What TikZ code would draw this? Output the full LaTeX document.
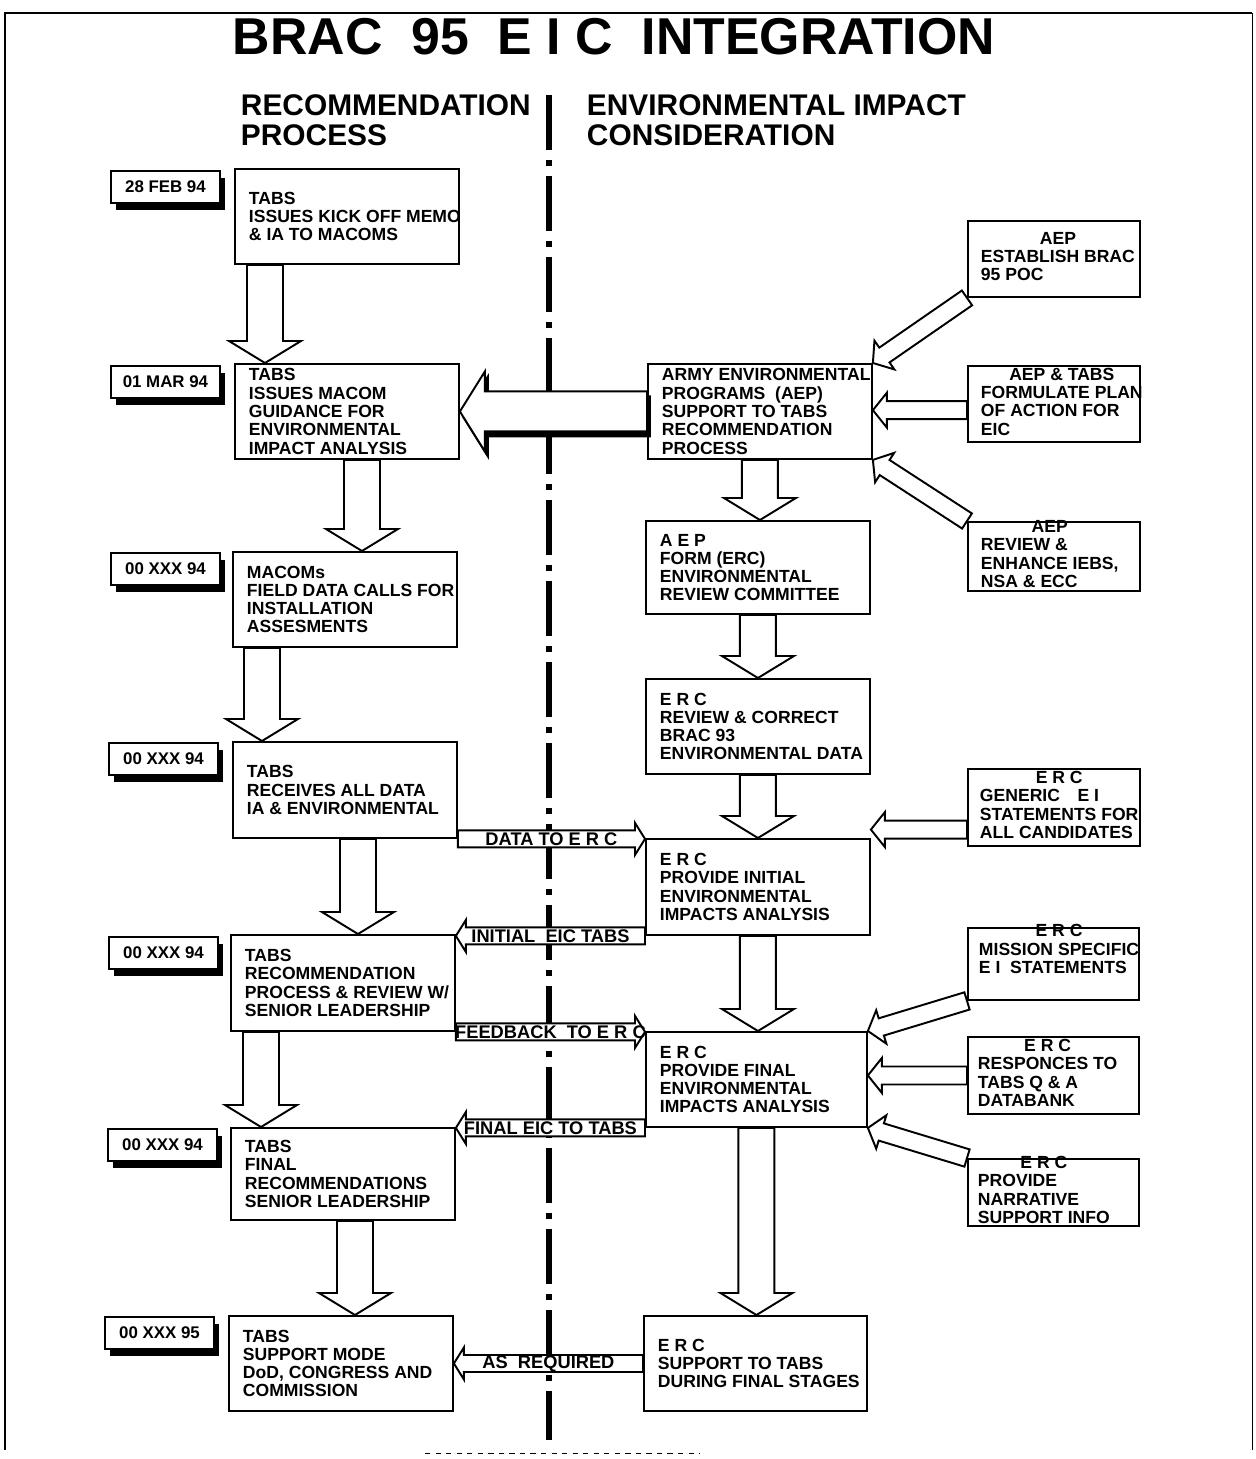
\documentclass[tikz,border=0pt]{standalone}
\usepackage{fontspec}
\setmainfont{Liberation Sans}
\usetikzlibrary{positioning,calc,shadows}

\begin{document}
\begin{tikzpicture}[
    x=0.02cm, y=-0.02cm,
    line width=1.1pt,
    box/.style={draw, fill=white, anchor=north west, inner sep=0pt},
    lbox/.style={box, minimum width=4.48cm, minimum height=1.9cm},
    rbox/.style={box, minimum width=3.44cm, minimum height=1.52cm},
    txt/.style={anchor=west, align=left, inner sep=0pt, xshift=0.28cm,
                font=\bfseries\fontsize{10}{10.4}\selectfont},
    date/.style={draw, fill=white, anchor=north west, inner sep=0pt,
                 minimum width=2.18cm, minimum height=0.64cm,
                 font=\bfseries\fontsize{9.6}{9.6}\selectfont,
                 drop shadow={shadow xshift=0.11cm, shadow yshift=-0.14cm,
                              fill=black, opacity=1}},
    hdr/.style={anchor=north west, align=left, inner sep=0pt,
                font=\bfseries\fontsize{17}{17}\selectfont},
    lbl/.style={font=\bfseries\fontsize{10.4}{10.4}\selectfont, inner sep=0pt},
    % hollow block arrow: half shaft, half head, head length
    fat/.style n args={3}{draw, fill=white, to path={
        let \p1=(\tikztostart), \p2=(\tikztotarget), \p3=($(\p2)!#3!(\p1)$) in
        -- ($(\p1)!#1!90:(\p2)$) -- ($(\p3)!#1!90:(\p2)$) -- ($(\p3)!#2!90:(\p2)$)
        -- (\p2) -- ($(\p3)!#2!-90:(\p2)$) -- ($(\p3)!#1!-90:(\p2)$)
        -- ($(\p1)!#1!-90:(\p2)$) -- cycle}},
    down/.style={fat={0.36cm}{0.72cm}{0.44cm}},
    big/.style={fat={0.4cm}{0.8cm}{0.5cm}},
    side/.style={fat={0.18cm}{0.35cm}{0.28cm}},
    flow/.style={fat={0.17cm}{0.32cm}{0.2cm}},
  ]
  \useasboundingbox (0,0) rectangle (1256,1459);

  % frame
  \draw[line width=1.2pt] (1252,13) -- (5,13) -- (5,1450);
  \draw[line width=0.5pt] (1252,13) -- (1252,1450);
  \draw[line width=0.5pt, dashed] (425,1453) -- (700,1453);

  \node[font=\bfseries\fontsize{29.5}{29.5}\selectfont] (title) at (614,37)
    {BRAC\ \ 95\ \ E I C\ \ INTEGRATION};
  \node[hdr] (rec) at (240,94) {RECOMMENDATION\\PROCESS};
  \node[hdr] (env) at (586,94) {ENVIRONMENTAL IMPACT\\CONSIDERATION};

  % dates
  \node[date] (d1) at (110,170)  {28 FEB 94};
  \node[date] (d2) at (110,365)  {01 MAR 94};
  \node[date] (d3) at (110,552)  {00 XXX 94};
  \node[date] (d4) at (108,742)  {00 XXX 94};
  \node[date] (d5) at (108,936)  {00 XXX 94};
  \node[date] (d6) at (107,1128) {00 XXX 94};
  \node[date] (d7) at (104,1316) {00 XXX 95};

  % recommendation process
  \node[lbox] (kick)   at (234,168)  {};
  \node[lbox] (guide)  at (234,363)  {};
  \node[lbox] (field)  at (232,551)  {};
  \node[lbox, minimum height=1.92cm] (recv)   at (232,741)  {};
  \node[lbox, minimum height=1.92cm] (review) at (230,934)  {};
  \node[lbox, minimum height=1.84cm] (final)  at (230,1127) {};
  \node[lbox] (supp)   at (228,1315) {};
  \node[txt] (kickt)   at (kick.west)   {TABS\\ISSUES KICK OFF MEMO\\\& IA TO MACOMS};
  \node[txt] (guidet)  at (guide.west)  {TABS\\ISSUES MACOM\\GUIDANCE FOR\\ENVIRONMENTAL\\IMPACT ANALYSIS};
  \node[txt] (fieldt)  at (field.west)  {MACOMs\\FIELD DATA CALLS FOR\\INSTALLATION\\ASSESMENTS};
  \node[txt] (recvt)   at (recv.west)   {TABS\\RECEIVES ALL DATA\\IA \& ENVIRONMENTAL};
  \node[txt] (reviewt) at (review.west) {TABS\\RECOMMENDATION\\PROCESS \& REVIEW W/\\SENIOR LEADERSHIP};
  \node[txt] (finalt)  at (final.west)  {TABS\\FINAL\\RECOMMENDATIONS\\SENIOR LEADERSHIP};
  \node[txt] (suppt)   at (supp.west)   {TABS\\SUPPORT MODE\\DoD, CONGRESS AND\\COMMISSION};

  % environmental impact consideration
  \node[lbox] (aep)  at (647,363)  {};
  \node[lbox, minimum height=1.86cm] (form) at (645,520) {};
  \node[lbox] (corr) at (645,678)  {};
  \node[lbox, minimum height=1.92cm] (init) at (645,838) {};
  \node[lbox, minimum width=4.42cm] (fin)  at (645,1031) {};
  \node[lbox, minimum width=4.46cm] (erc)  at (643,1315) {};
  \node[txt] (aept)  at (aep.west)  {ARMY ENVIRONMENTAL\\PROGRAMS\ \ (AEP)\\SUPPORT TO TABS\\RECOMMENDATION\\PROCESS};
  \node[txt] (formt) at (form.west) {A E P\\FORM (ERC)\\ENVIRONMENTAL\\REVIEW COMMITTEE};
  \node[txt] (corrt) at (corr.west) {E R C\\REVIEW \& CORRECT\\BRAC 93\\ENVIRONMENTAL DATA};
  \node[txt] (initt) at (init.west) {E R C\\PROVIDE INITIAL\\ENVIRONMENTAL\\IMPACTS ANALYSIS};
  \node[txt] (fint)  at (fin.west)  {E R C\\PROVIDE FINAL\\ENVIRONMENTAL\\IMPACTS ANALYSIS};
  \node[txt] (erct)  at (erc.west)  {E R C\\SUPPORT TO TABS\\DURING FINAL STAGES};

  % inputs on the right
  \node[rbox] (poc)  at (967,220)  {};
  \node[rbox] (plan) at (967,365)  {};
  \node[rbox, minimum height=1.38cm] (iebs) at (967,521)  {};
  \node[rbox, minimum height=1.54cm] (gen)  at (967,768)  {};
  \node[rbox, minimum width=3.42cm, minimum height=1.44cm] (miss) at (967,927)  {};
  \node[rbox, minimum width=3.42cm, minimum height=1.54cm] (qa)   at (967,1036) {};
  \node[rbox, minimum width=3.42cm, minimum height=1.34cm] (narr) at (967,1158) {};
  \node[txt, xshift=-0.02cm] (poct)  at (poc.west)
    {\begin{tabular}{@{}l@{}}\multicolumn{1}{@{}c@{}}{AEP}\\ESTABLISH BRAC\\95 POC\end{tabular}};
  \node[txt, xshift=-0.02cm] (plant) at (plan.west)
    {\begin{tabular}{@{}l@{}}\multicolumn{1}{@{}c@{}}{AEP \& TABS}\\FORMULATE PLAN\\OF ACTION FOR\\EIC\end{tabular}};
  \node[txt, xshift=-0.02cm] (iebst) at (iebs.west)
    {\begin{tabular}{@{}l@{}}\multicolumn{1}{@{}c@{}}{AEP}\\REVIEW \&\\ENHANCE IEBS,\\NSA \& ECC\end{tabular}};
  \node[txt, xshift=-0.04cm] (gent)  at (gen.west)
    {\begin{tabular}{@{}l@{}}\multicolumn{1}{@{}c@{}}{E R C}\\GENERIC\quad E I\\STATEMENTS FOR\\ALL CANDIDATES\end{tabular}};
  \node[txt, anchor=north west, xshift=-0.06cm, yshift=0.08cm] (misst) at (miss.north west)
    {\begin{tabular}{@{}l@{}}\multicolumn{1}{@{}c@{}}{E R C}\\MISSION SPECIFIC\\E I\ \ STATEMENTS\end{tabular}};
  \node[txt, xshift=-0.08cm] (qat)   at (qa.west)
    {\begin{tabular}{@{}l@{}}\multicolumn{1}{@{}c@{}}{E R C}\\RESPONCES TO\\TABS Q \& A\\DATABANK\end{tabular}};
  \node[txt, xshift=-0.08cm] (narrt) at (narr.west)
    {\begin{tabular}{@{}l@{}}\multicolumn{1}{@{}c@{}}{E R C}\\PROVIDE\\NARRATIVE\\SUPPORT INFO\end{tabular}};

  % dividing line
  \coordinate (ctop) at (549,95);
  \coordinate (cbot) at (549,1440);
  \draw[line width=3pt, dash pattern=on 1.1cm off 0.2cm on 0.12cm off 0.2cm] (ctop) -- (cbot);

  % flow down each column
  \foreach \a/\b/\s in {kick/guide/0.62, guide/field/2.56, field/recv/0.6,
                        recv/review/2.52, review/final/0.62, final/supp/2.5} {
    \coordinate (s) at ([xshift=\s cm]\a.south west);
    \draw[down] (s) to (s |- \b.north);
  }
  \foreach \a/\b in {aep/form, form/corr, corr/init, init/fin, fin/erc}
    \draw[down] (\a.south) to (\a.south |- \b.north);

  % AEP support to TABS
  \draw[big, fill=black, transform canvas={xshift=0.06cm, yshift=-0.1cm}]
    (aep.west) to (aep.west -| guide.east);
  \draw[big] (aep.west) to (aep.west -| guide.east);

  % inputs into AEP and ERC
  \coordinate (p2) at ($(plan.north west)!0.58!(plan.south west)$);
  \coordinate (g2) at ($(gen.north west)!0.78!(gen.south west)$);
  \draw[side] (poc.south west) to (aep.north east);
  \draw[side] (p2) to (p2 -| aep.east);
  \draw[side] (iebs.north west) to (aep.south east);
  \draw[side] (g2) to (g2 -| init.east);
  \draw[side] (miss.south west) to (fin.north east);
  \draw[side] (qa.west) to (qa.west -| fin.east);
  \draw[side] (narr.north west) to (fin.south east);

  % exchanges across the line
  \draw[flow] (recv.south east) to (recv.south east -| init.west);
  \draw[flow] (init.south west) to (init.south west -| review.east);
  \draw[flow] (review.south east) to (review.south east -| fin.west);
  \draw[flow] (fin.south west) to (fin.south west -| final.east);
  \draw[flow] (erc.west) to (erc.west -| supp.east);
  \path (recv.south east) -- (recv.south east -| init.west)
    node[midway, lbl] (datal) {DATA TO E R C};
  \path (init.south west) -- (init.south west -| review.east)
    node[midway, lbl] (initl) {INITIAL\ \ EIC TABS};
  \path (review.south east) -- (review.south east -| fin.west)
    node[midway, lbl] (feedl) {FEEDBACK\ \ TO E R C};
  \path (fin.south west) -- (fin.south west -| final.east)
    node[midway, lbl] (finl) {FINAL EIC TO TABS};
  \path (erc.west) -- (erc.west -| supp.east)
    node[midway, lbl] (reql) {AS\ \ REQUIRED};
\end{tikzpicture}
\end{document}
